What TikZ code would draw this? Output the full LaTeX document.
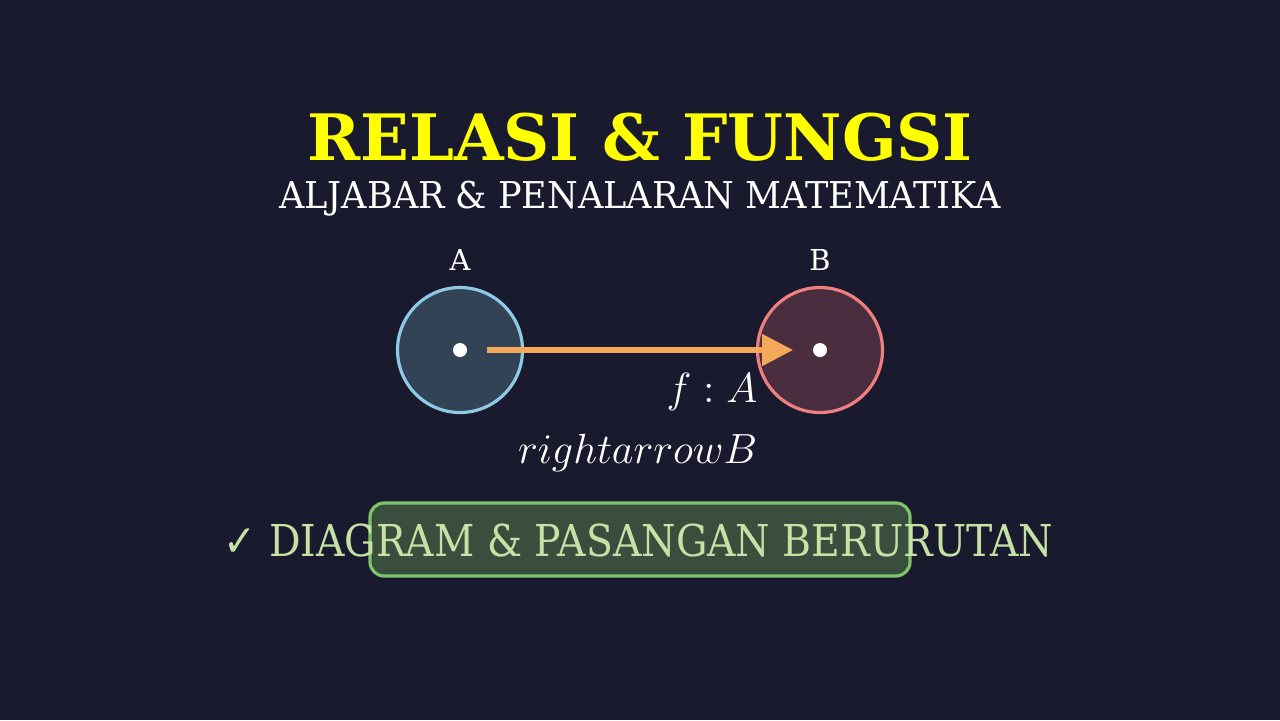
\documentclass[tikz,border=0pt]{standalone}
\usepackage{fontspec}
\setmainfont{DejaVu Serif}
\newfontfamily\symfont{DejaVu Sans}
\usetikzlibrary{arrows.meta}
\definecolor{bgc}{HTML}{1A1A2E}
\definecolor{titlec}{HTML}{FFFF00}
\definecolor{afill}{HTML}{334356}
\definecolor{astroke}{HTML}{8ECAE6}
\definecolor{bfill}{HTML}{4A2D3E}
\definecolor{bstroke}{HTML}{F08080}
\definecolor{arrowc}{HTML}{F4A95A}
\definecolor{boxfill}{HTML}{3A4E3E}
\definecolor{boxstroke}{HTML}{7DC46B}
\definecolor{greentext}{HTML}{C5E1A5}
\tikzset{
  txt/.style={anchor=base, inner sep=0pt, text=white},
  dotnode/.style={circle, fill=white, minimum size=14*0.01cm, inner sep=0pt},
  setnode/.style={circle, minimum size=125*0.01cm, inner sep=0pt, line width=0.9pt},
}
\begin{document}
\begin{tikzpicture}[x=0.01cm, y=-0.01cm]
\fill[bgc] (0,0) rectangle (1280,720);
\useasboundingbox (0,0) rectangle (1280,720);
% title
\node[txt, text=titlec, font=\fontsize{18.2}{22}\selectfont\bfseries] (title) at (640,160) {RELASI \& FUNGSI};
\node[txt, font=\fontsize{10.5}{13}\selectfont] (sub) at (640,208) {\scalebox{0.95}[1]{ALJABAR \& PENALARAN MATEMATIKA}};
% sets
\node[setnode, fill=afill, draw=astroke] (A) at (460,350) {};
\node[setnode, fill=bfill, draw=bstroke] (B) at (820,350) {};
\node[txt, font=\fontsize{8.2}{10}\selectfont] (la) at (460,270) {A};
\node[txt, font=\fontsize{8.2}{10}\selectfont] (lb) at (820,270) {B};
\node[dotnode] (da) at (460,350) {};
\node[dotnode] (db) at (820,350) {};
\coordinate (as) at (487,350);
\coordinate (ae) at (793,350);
\draw[arrowc, line width=1.45pt, -{Triangle[length=31*0.01cm, width=31*0.01cm]}] (as) -- (ae);
% function label
\node[txt, anchor=base east, font=\fontsize{11.9}{14}\selectfont] (f1) at (758,402) {$f : A$};
\node[txt, anchor=base east, font=\fontsize{11.9}{14}\selectfont] (f2) at (758,463) {$rightarrowB$};
% bottom box
\node[draw=boxstroke, fill=boxfill, line width=0.9pt, rounded corners=4pt, minimum width=540*0.01cm, minimum height=73*0.01cm, inner sep=0pt] (box) at (640,539.5) {};
\node[txt, text=greentext, font=\fontsize{12.5}{15}\selectfont] (bt) at (638.5,556) {\scalebox{0.896}[1]{{\symfont ✓} DIAGRAM \& PASANGAN BERURUTAN}};
\end{tikzpicture}
\end{document}
